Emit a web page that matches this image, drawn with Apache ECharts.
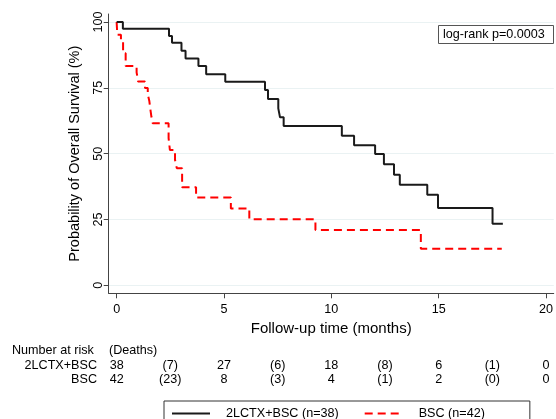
<!DOCTYPE html>
<html>
<head>
<meta charset="utf-8">
<script src="https://cdn.jsdelivr.net/npm/echarts@6/dist/echarts.min.js"></script>
<style>
html,body{margin:0;padding:0;background:#fff;}
#chart{width:556px;height:419px;}
</style>
</head>
<body>
<div id="chart"></div>
<script>
// ---- data ----
const timesA = [0,0.29,2.44,2.58,3.02,3.21,3.81,4.17,5.06,6.91,7.05,7.53,7.61,7.78,10.49,11.06,12.04,12.45,12.92,13.19,14.47,14.97,17.51,17.99];
const survA  = [100,97.4,94.7,92.1,89.1,86.1,83.3,80.2,77.3,74.2,70.8,67.2,63.8,60.5,56.8,53.2,49.9,46.0,42.0,38.2,34.4,29.4,23.4,23.4];
const timesB = [0,0.03,0.2,0.3,0.42,0.93,1.0,1.32,1.45,1.52,1.57,1.62,1.68,2.42,2.48,2.72,2.8,3.05,3.70,5.32,6.18,9.26,14.17,17.94];
const survB  = [100,95.2,92.9,88.1,83.3,80.9,77.4,74.9,72.5,70.1,66.9,64.0,61.5,55.9,51.4,47.6,44.5,37.2,33.3,29.2,25.1,21.0,13.9,13.9];
const nameA = '2LCTX+BSC (n=38)';
const nameB = 'BSC (n=42)';
const rowLabelA = '2LCTX+BSC';
const rowLabelB = 'BSC';
const xTicks = [0,5,10,15,20];
const yTicks = [0,25,50,75,100];
const riskTimes = [0,5,10,15,20];
const atRiskA = [38,27,18,6,0];
const deathsA = [7,6,8,1];
const atRiskB = [42,8,4,2,0];
const deathsB = [23,3,1,0];
const pText = 'log-rank p=0.0003';

const FONT = 'Liberation Sans, Arial, sans-serif';
const chart = echarts.init(document.getElementById('chart'), null, {renderer:'canvas'});

function pairs(t, s){ return t.map((v,i)=>[v, s[i]]); }

const option = {
  animation: false,
  backgroundColor: '#fff',
  textStyle: {fontFamily: FONT},
  title: {
    text: pText,
    left: 438, top: 25,
    padding: [3, 9, 3, 5],
    borderColor: '#555', borderWidth: 1,
    textStyle: {fontFamily: FONT, fontSize: 12.6, fontWeight: 'normal', color: '#000'}
  },
  grid: {left: 108.7, right: 0, top: 14, bottom: 125.7, containLabel: false},
  xAxis: {
    type: 'value', min: -0.37, max: 20.36,
    name: 'Follow-up time (months)', nameLocation: 'middle', nameGap: 28,
    nameTextStyle: {fontFamily: FONT, fontSize: 15, color: '#000'},
    axisLine: {show: true, onZero: false, lineStyle: {color: '#444', width: 1}},
    axisTick: {show: true, length: 5, customValues: xTicks, lineStyle: {color: '#444'}},
    axisLabel: {customValues: xTicks, margin: 10, fontFamily: FONT, fontSize: 12.6, color: '#000'},
    splitLine: {show: false}
  },
  yAxis: {
    type: 'value', min: -3.04, max: 103.04,
    name: 'Probability of Overall Survival (%)', nameLocation: 'middle', nameGap: 26,
    nameTextStyle: {fontFamily: FONT, fontSize: 14.5, color: '#000'},
    axisLine: {show: true, onZero: false, lineStyle: {color: '#444', width: 1}},
    axisTick: {show: true, length: 5, customValues: yTicks, lineStyle: {color: '#444'}},
    axisLabel: {customValues: yTicks, rotate: 90, margin: 4, fontFamily: FONT, fontSize: 12.6, color: '#000'},
    splitLine: {show: true, lineStyle: {color: '#eaf2f3', width: 1}}
  },
  legend: {
    left: 164, top: 401,
    padding: [6, 45, 10, 7],
    borderColor: '#333', borderWidth: 1,
    itemWidth: 38, itemHeight: 14, itemGap: 25,
    itemStyle: {opacity: 0, borderWidth: 0},
    textStyle: {fontFamily: FONT, fontSize: 12.6, color: '#000', padding: [0,0,0,11]},
    data: [nameA, nameB]
  },
  series: [
    {
      name: nameA, type: 'line', step: 'end', showSymbol: false, symbol: 'none',
      data: pairs(timesA, survA),
      lineStyle: {color: '#1a1a1a', width: 2},
      itemStyle: {color: '#1a1a1a'},
      z: 3
    },
    {
      name: nameB, type: 'line', step: 'end', showSymbol: false, symbol: 'none',
      data: pairs(timesB, survB),
      lineStyle: {color: '#ff0000', width: 2, type: [8, 5]},
      itemStyle: {color: '#ff0000'},
      z: 2
    }
  ]
};
chart.setOption(option);

// risk table, positioned through the x axis scale
const g = [];
const rowY = {head: 351, a: 365.5, b: 380};
const ts = {fontFamily: FONT, fontSize: 12.6, fill: '#000'};
function txt(x, y, s, align){
  return {type:'text', x: x, y: y, style: Object.assign({text: s, align: align, verticalAlign:'middle'}, ts)};
}
g.push(txt(12, rowY.head, 'Number at risk', 'left'));
g.push(txt(109, rowY.head, '(Deaths)', 'left'));
g.push(txt(97, rowY.a, rowLabelA, 'right'));
g.push(txt(97, rowY.b, rowLabelB, 'right'));
riskTimes.forEach((t,i)=>{
  const px = chart.convertToPixel({xAxisIndex:0}, t);
  g.push(txt(px, rowY.a, String(atRiskA[i]), 'center'));
  g.push(txt(px, rowY.b, String(atRiskB[i]), 'center'));
  if (i < riskTimes.length - 1) {
    const pm = chart.convertToPixel({xAxisIndex:0}, (t + riskTimes[i+1]) / 2);
    g.push(txt(pm, rowY.a, '(' + deathsA[i] + ')', 'center'));
    g.push(txt(pm, rowY.b, '(' + deathsB[i] + ')', 'center'));
  }
});
chart.setOption({graphic: g});
</script>
</body>
</html>
